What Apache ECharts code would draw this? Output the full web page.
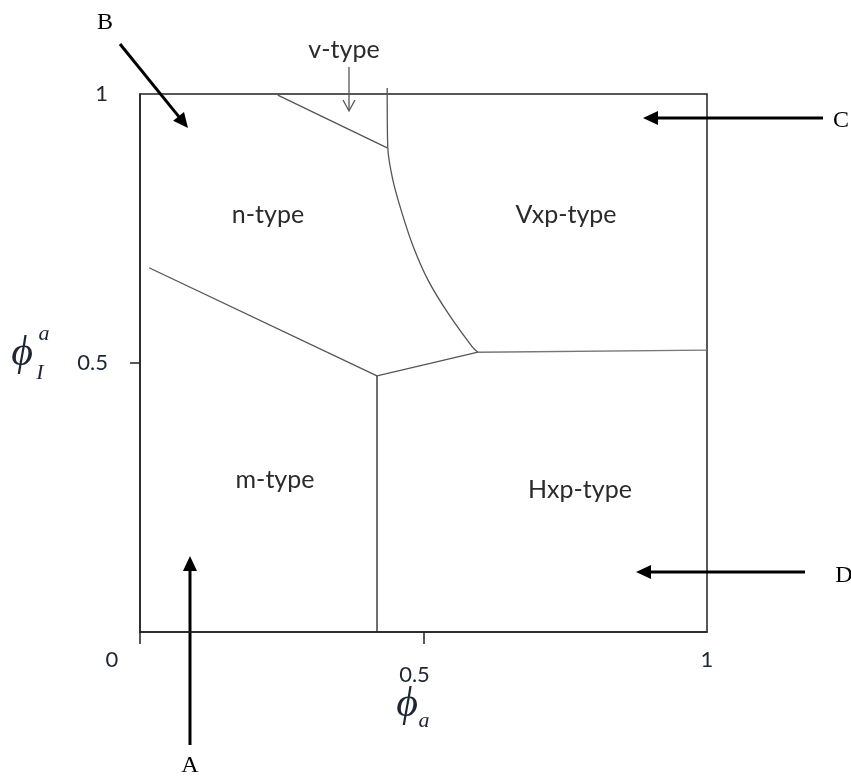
<!DOCTYPE html>
<html><head><meta charset="utf-8">
<script src="https://cdn.jsdelivr.net/npm/echarts@6/dist/echarts.min.js"></script>
<style>html,body{margin:0;padding:0;background:#fff}#chart{width:851px;height:780px}</style>
</head><body><div id="chart"></div>
<script>
// Axis tick values
const xTickValues = [0, 0.5, 1];
const yTickValues = [0.5, 1];

// Phase boundaries (phi_a, phi_I^a)
const nmBoundary = [[0.016, 0.677], [0.418, 0.476]];
const mHxpBoundary = [[0.418, 0.476], [0.418, 0]];
const tripleLink = [[0.418, 0.476], [0.596, 0.520]];
const vxpHxpBoundary = [[0.596, 0.520], [1.0, 0.524]];
const vTypeBoundary = [[0.243, 0.998], [0.436, 0.900]];
const nVxpCurve = [[0.436, 1.011], [0.436, 1.0], [0.437, 0.900], [0.446, 0.840], [0.462, 0.779],
  [0.482, 0.716], [0.508, 0.654], [0.543, 0.593], [0.586, 0.530], [0.596, 0.520]];

const chart = echarts.init(document.getElementById('chart'), null, { renderer: 'canvas' });

const sansFont = 'Lato, "Open Sans", sans-serif';
const serifFont = '"Liberation Serif", "DejaVu Serif", serif';
const labelColor = '#1e2533';
const regionColor = '#2b2b2b';

function boundary(data, color, smooth) {
  return {
    type: 'line', data: data, symbol: 'none', clip: false, smooth: smooth || false,
    lineStyle: { color: color, width: 1.3 }, silent: true, animation: false
  };
}

// Thick annotation arrow with a filled head at (x2, y2)
function arrow(x1, y1, x2, y2) {
  const dx = x2 - x1, dy = y2 - y1, len = Math.hypot(dx, dy);
  const ux = dx / len, uy = dy / len, hl = 15, hw = 7;
  const bx = x2 - ux * hl, by = y2 - uy * hl;
  return [
    { type: 'line', shape: { x1: x1, y1: y1, x2: bx + ux * 2, y2: by + uy * 2 }, style: { stroke: '#000', lineWidth: 3 } },
    { type: 'polygon', shape: { points: [[x2, y2], [bx - uy * hw, by + ux * hw], [bx + uy * hw, by - ux * hw]] }, style: { fill: '#000' } }
  ];
}

function text(x, y, str, font, size, color, italic) {
  return {
    type: 'text', x: x, y: y,
    style: { text: str, fontFamily: font, fontSize: size, fontStyle: italic ? 'italic' : 'normal', fill: color, align: 'center', verticalAlign: 'middle' }
  };
}

const graphics = [].concat(
  arrow(120, 44, 188, 128),
  arrow(823, 118, 643, 118),
  arrow(805, 572, 636, 572),
  arrow(190, 745, 190, 556),
  [
    text(105, 23, 'B', serifFont, 24, '#000'),
    text(841, 121, 'C', serifFont, 24, '#000'),
    text(844, 576, 'D', serifFont, 24, '#000'),
    text(190, 766, 'A', serifFont, 24, '#000'),
    text(344, 50, 'v-type', sansFont, 25, regionColor),
    { type: 'line', shape: { x1: 349, y1: 67, x2: 349, y2: 110 }, style: { stroke: '#555', lineWidth: 1.3 } },
    { type: 'polyline', shape: { points: [[343, 100], [349, 111], [355, 100]] }, style: { stroke: '#555', lineWidth: 1.3, fill: null } },
    text(268, 215, 'n-type', sansFont, 25, regionColor),
    text(566, 215, 'Vxp-type', sansFont, 25, regionColor),
    text(275, 480, 'm-type', sansFont, 25, regionColor),
    text(580, 490, 'Hxp-type', sansFont, 25, regionColor),
    // phi_a
    text(407, 705, 'ϕ', serifFont, 42, labelColor, true),
    text(424, 721, 'a', serifFont, 22, labelColor, true),
    // phi_I^a
    text(22, 354, 'ϕ', serifFont, 42, labelColor, true),
    text(44, 334, 'a', serifFont, 22, labelColor, true),
    text(40, 373, 'I', serifFont, 22, labelColor, true)
  ]
);

chart.setOption({
  backgroundColor: '#fff',
  animation: false,
  grid: { left: 140, right: 144, top: 94, bottom: 148, show: true, borderColor: '#222', borderWidth: 1.5, backgroundColor: 'transparent' },
  xAxis: {
    type: 'value', min: 0, max: 1,
    splitLine: { show: false },
    axisLine: { show: true, onZero: false, lineStyle: { color: '#222', width: 1.5 } },
    axisTick: { show: true, customValues: [0, 0.5], length: 12, lineStyle: { color: '#222', width: 1.5 } },
    axisLabel: {
      customValues: xTickValues, margin: 17, color: labelColor, fontFamily: sansFont, fontSize: 22,
      formatter: function (v) { return v === 0 ? '{l|0}' : (v === 0.5 ? '{m|0.5}' : '{r|1}'); },
      rich: {
        l: { fontFamily: sansFont, fontSize: 22, color: labelColor, padding: [0, 56, 0, 0] },
        m: { fontFamily: sansFont, fontSize: 22, color: labelColor, padding: [15, 18, 0, 0] },
        r: { fontFamily: sansFont, fontSize: 22, color: labelColor }
      }
    }
  },
  yAxis: {
    type: 'value', min: 0, max: 1,
    splitLine: { show: false },
    axisLine: { show: true, onZero: false, lineStyle: { color: '#222', width: 1.5 } },
    axisTick: { show: true, customValues: [0.5], length: 10, lineStyle: { color: '#222', width: 1.5 } },
    axisLabel: {
      customValues: yTickValues, margin: 32, color: labelColor, fontFamily: sansFont, fontSize: 22
    }
  },
  series: [
    boundary(nmBoundary, '#555'),
    boundary(mHxpBoundary, '#222'),
    boundary(tripleLink, '#555'),
    boundary(vxpHxpBoundary, '#777'),
    boundary(vTypeBoundary, '#555'),
    boundary(nVxpCurve, '#555', 0.3)
  ],
  graphic: graphics
});
</script>
</body></html>
